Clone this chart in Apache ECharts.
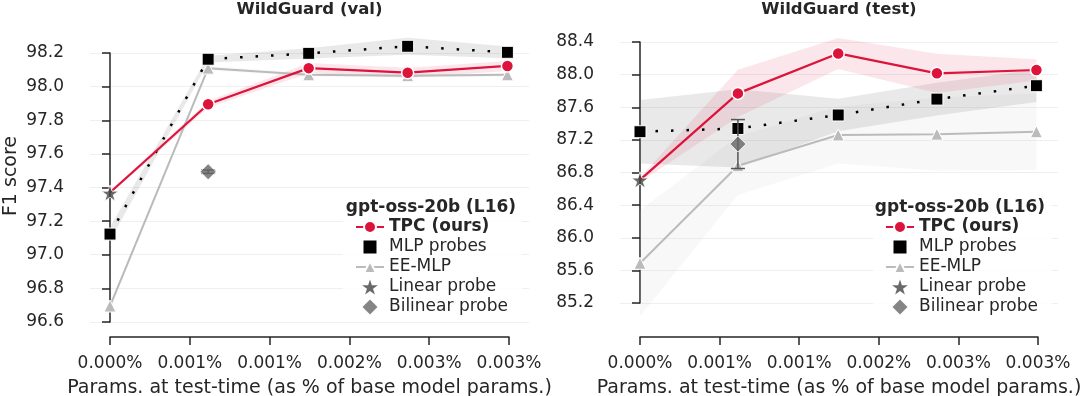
<!DOCTYPE html>
<html>
<head>
<meta charset="utf-8">
<script src="https://cdn.jsdelivr.net/npm/echarts@6/dist/echarts.min.js"></script>
<style>
  html, body { margin: 0; padding: 0; background: #fff; }
  #chart { width: 1080px; height: 396px; }
</style>
</head>
<body>
<div id="chart"></div>
<script>
// x positions in units of 1e-3 % of base model params
const xParams = [0, 0.615, 1.245, 1.865, 2.49];
const xTicks = [0, 0.5, 1.0, 1.5, 2.0, 2.5];
const xTickLabels = ['0.000%', '0.001%', '0.001%', '0.002%', '0.003%', '0.003%'];

// WildGuard (val)
const valTPC = [97.37, 97.895, 98.11, 98.083, 98.123];
const valTPCErr = [0.01, 0.02, 0.03, 0.03, 0.03];
const valMLP = [97.123, 98.163, 98.198, 98.24, 98.204];
const valMLPErr = [0.04, 0.02, 0.03, 0.05, 0.035];
const valEE = [96.695, 98.11, 98.07, 98.065, 98.07];
const valEEErr = [0.02, 0.012, 0.01, 0.01, 0.01];
const valLinear = 97.367;
const valBilinear = 97.494;
const valBilinearErr = 0.01;
const valYTicks = [96.6, 96.8, 97.0, 97.2, 97.4, 97.6, 97.8, 98.0, 98.2];

// WildGuard (test)
const testTPC = [86.71, 87.77, 88.26, 88.016, 88.057];
const testTPCErr = [0.03, 0.29, 0.19, 0.24, 0.13];
const testMLP = [87.30, 87.34, 87.505, 87.70, 87.864];
const testMLPErr = [0.39, 0.48, 0.2, 0.2, 0.2];
const testEE = [85.687, 86.883, 87.26, 87.27, 87.30];
const testEEErr = [0.65, 0.36, 0.35, 0.45, 0.47];
const testLinear = 86.708;
const testBilinear = 87.149;
const testBilinearErr = 0.3;
const testYTicks = [85.2, 85.6, 86.0, 86.4, 86.8, 87.2, 87.6, 88.0, 88.4];

const FONT = '"DejaVu Sans", sans-serif';
const INK = '#262626';
const RED = '#dc143c';
const STAR = 'path://M10,0L12.245,6.91L19.511,6.91L13.633,11.18L15.878,18.09L10,13.82L4.122,18.09L6.367,11.18L0.489,6.91L7.755,6.91Z';
const DIAMOND = 'path://M5,0L10,5L5,10L0,5Z';
const SQUARE = 'path://M0,0H10V10H0Z';

const option = {
  animation: false,
  textStyle: { fontFamily: FONT },
  grid: [], xAxis: [], yAxis: [], series: [], legend: [],
  graphic: [{
    type: 'text', x: 11, y: 176, rotation: Math.PI / 2, z: 10,
    style: { text: 'F1 score', textAlign: 'center', textVerticalAlign: 'middle', font: '19px ' + FONT, fill: INK }
  }]
};

function bandSeries(name, ax, mean, err, color) {
  return {
    type: 'custom', name: name, xAxisIndex: ax, yAxisIndex: ax, z: 1, silent: true,
    data: xParams.map((x, k) => [x, mean[k] - err[k], mean[k] + err[k]]),
    renderItem: function (params, api) {
      if (params.dataIndex !== 0) return null;
      const top = [], bot = [];
      xParams.forEach((x, k) => {
        top.push(api.coord([x, mean[k] + err[k]]));
        bot.unshift(api.coord([x, mean[k] - err[k]]));
      });
      return { type: 'polygon', shape: { points: top.concat(bot) }, style: { fill: color } };
    }
  };
}

function addPanel(p) {
  const ax = option.grid.length;
  const yMin = p.yTicks[0], yMax = p.yTicks[p.yTicks.length - 1];
  const yStep = +(p.yTicks[1] - p.yTicks[0]).toFixed(2);
  // main grid: spans exactly the tick ranges
  option.grid.push({ left: p.left, right: p.right, top: p.top, bottom: p.bottom, outerBoundsMode: 'none' });
  option.xAxis.push({
    type: 'value', gridIndex: ax, min: xTicks[0], max: xTicks[xTicks.length - 1], interval: 0.5,
    offset: p.xOffset,
    axisLine: { show: true, lineStyle: { color: INK, width: 1.5 } },
    axisTick: { show: true, length: 8, lineStyle: { color: INK, width: 1.5 } },
    axisLabel: { margin: 18, fontSize: 17, color: INK, formatter: (v, i) => xTickLabels[i] },
    splitLine: { show: false },
    name: 'Params. at test-time (as % of base model params.)',
    nameLocation: 'middle', nameGap: 42, nameTextStyle: { fontSize: 19, color: INK }
  });
  option.yAxis.push({
    type: 'value', gridIndex: ax, min: yMin, max: yMax, interval: yStep,
    offset: p.yOffset,
    axisLine: { show: true, lineStyle: { color: INK, width: 1.5 } },
    axisTick: { show: true, length: 8, lineStyle: { color: INK, width: 1.5 } },
    axisLabel: { margin: 18, fontSize: 17, color: INK, formatter: v => v.toFixed(1) },
    splitLine: { show: false }
  });
  // second grid only for the horizontal grid lines over the full plot width
  const gl = ax + 1;
  option.grid.push({ left: p.left - 20, right: p.right - 20, top: p.top, bottom: p.bottom, outerBoundsMode: 'none' });
  option.xAxis.push({ type: 'value', gridIndex: gl, min: 0, max: 1, show: false });
  option.yAxis.push({
    type: 'value', gridIndex: gl, min: yMin, max: yMax, interval: yStep,
    axisLine: { show: false }, axisTick: { show: false }, axisLabel: { show: false },
    splitLine: { show: true, lineStyle: { color: '#efefef', width: 1 } }
  });

  option.series.push(
    bandSeries('ee-band', ax, p.ee, p.eeErr, 'rgba(200,200,200,0.12)'),
    bandSeries('mlp-band', ax, p.mlp, p.mlpErr, 'rgba(120,120,120,0.16)'),
    bandSeries('tpc-band', ax, p.tpc, p.tpcErr, 'rgba(220,20,60,0.10)'),
    {
      type: 'line', name: 'EE-MLP', xAxisIndex: ax, yAxisIndex: ax, z: 2, clip: false,
      data: xParams.map((x, k) => [x, p.ee[k]]),
      symbol: 'triangle', symbolSize: 12,
      itemStyle: { color: '#bbbbbb', borderColor: '#fff', borderWidth: 1 },
      lineStyle: { color: '#bbbbbb', width: 2 }
    },
    {
      type: 'line', name: 'MLP probes', xAxisIndex: ax, yAxisIndex: ax, z: 3, clip: false,
      data: xParams.map((x, k) => [x, p.mlp[k]]),
      symbol: 'rect', symbolSize: 12,
      itemStyle: { color: '#000', borderColor: '#fff', borderWidth: 1 },
      lineStyle: { color: '#000', width: 2.5, type: [2.5, 13] }
    },
    {
      type: 'line', name: 'TPC (ours)', xAxisIndex: ax, yAxisIndex: ax, z: 4, clip: false,
      data: xParams.map((x, k) => k === 0 ? { value: [x, p.tpc[k]], symbol: 'none' } : [x, p.tpc[k]]),
      symbol: 'circle', symbolSize: 12,
      itemStyle: { color: RED, borderColor: '#fff', borderWidth: 1.5 },
      lineStyle: { color: RED, width: 2.2 }
    },
    {
      type: 'custom', name: 'bilinear-err', xAxisIndex: ax, yAxisIndex: ax, z: 5, silent: true,
      data: [[xParams[1], p.bilinear - p.bilinearErr, p.bilinear + p.bilinearErr]],
      renderItem: function (params, api) {
        const a = api.coord([api.value(0), api.value(1)]);
        const b = api.coord([api.value(0), api.value(2)]);
        const st = { stroke: '#555', lineWidth: 1.5 };
        return {
          type: 'group', children: [
            { type: 'line', shape: { x1: a[0], y1: a[1], x2: b[0], y2: b[1] }, style: st },
            { type: 'line', shape: { x1: a[0] - 7, y1: a[1], x2: a[0] + 7, y2: a[1] }, style: st },
            { type: 'line', shape: { x1: b[0] - 7, y1: b[1], x2: b[0] + 7, y2: b[1] }, style: st }
          ]
        };
      }
    },
    {
      type: 'scatter', name: 'Bilinear probe', xAxisIndex: ax, yAxisIndex: ax, z: 6, clip: false,
      data: [[xParams[1], p.bilinear]], symbol: DIAMOND, symbolSize: 16, symbolKeepAspect: true,
      itemStyle: { color: '#666', borderColor: '#fff', borderWidth: 1 }
    },
    {
      type: 'scatter', name: 'Linear probe', xAxisIndex: ax, yAxisIndex: ax, z: 6, clip: false,
      data: [[xParams[0], p.linear]], symbol: STAR, symbolSize: 17, symbolKeepAspect: true,
      itemStyle: { color: '#444', borderColor: '#fff', borderWidth: 1 }
    }
  );

  option.legend.push({
    orient: 'vertical', left: p.legendLeft - 12, top: 196, padding: [21, 14, 2, 12],
    backgroundColor: 'rgba(255,255,255,0.85)',
    itemWidth: 28, itemHeight: 15, itemGap: 0, selectedMode: false,
    textStyle: {
      fontSize: 17, lineHeight: 20, color: INK, fontFamily: FONT,
      rich: { b: { fontSize: 17, lineHeight: 20, fontWeight: 'bold', color: INK, fontFamily: FONT } }
    },
    formatter: n => n === 'TPC (ours)' ? '{b|' + n + '}' : n,
    data: [
      { name: 'TPC (ours)' },
      { name: 'MLP probes', icon: SQUARE },
      { name: 'EE-MLP' },
      { name: 'Linear probe', icon: STAR, itemStyle: { borderWidth: 0 } },
      { name: 'Bilinear probe', icon: DIAMOND, itemStyle: { borderWidth: 0 } }
    ]
  });

  option.graphic.push(
    { type: 'text', x: p.titleX, y: 10, z: 10, style: { text: p.title, textAlign: 'center', textVerticalAlign: 'middle', font: 'bold 16.5px ' + FONT, fill: INK } },
    { type: 'text', x: p.legendTitleX, y: 208, z: 10, style: { text: 'gpt-oss-20b (L16)', textAlign: 'center', textVerticalAlign: 'middle', font: 'bold 17px ' + FONT, fill: INK } }
  );
}

addPanel({
  title: 'WildGuard (val)', titleX: 309.5,
  left: 110, right: 571, top: 53, bottom: 74, xOffset: 15, yOffset: 28,
  yTicks: valYTicks, tpc: valTPC, tpcErr: valTPCErr, mlp: valMLP, mlpErr: valMLPErr,
  ee: valEE, eeErr: valEEErr, linear: valLinear, bilinear: valBilinear, bilinearErr: valBilinearErr,
  legendLeft: 355, legendTitleX: 431
});
addPanel({
  title: 'WildGuard (test)', titleX: 839,
  left: 640, right: 42, top: 42, bottom: 93, xOffset: 34, yOffset: 28,
  yTicks: testYTicks, tpc: testTPC, tpcErr: testTPCErr, mlp: testMLP, mlpErr: testMLPErr,
  ee: testEE, eeErr: testEEErr, linear: testLinear, bilinear: testBilinear, bilinearErr: testBilinearErr,
  legendLeft: 885, legendTitleX: 960
});

const chart = echarts.init(document.getElementById('chart'));
chart.setOption(option);
</script>
</body>
</html>
